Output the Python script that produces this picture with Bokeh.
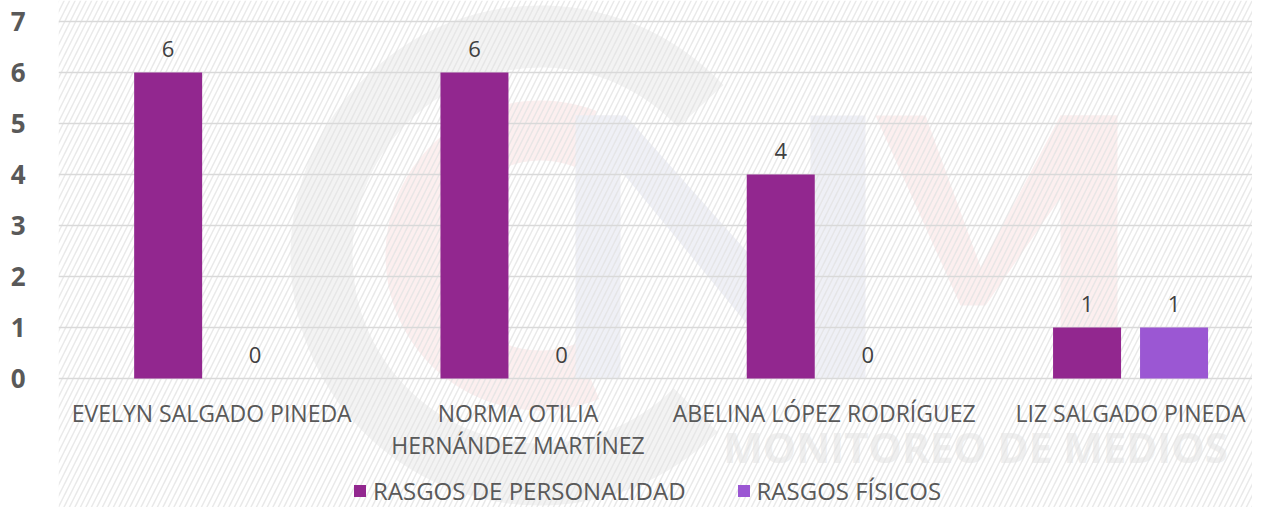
from bokeh.plotting import figure
from bokeh.models import Range1d, FixedTicker, ColumnDataSource, Legend, LegendItem
from bokeh.core.properties import value
from bokeh.embed import file_html
from bokeh.resources import INLINE

# ---- data ----
candidatas = ["EVELYN SALGADO PINEDA", "NORMA OTILIA\nHERNÁNDEZ MARTÍNEZ",
              "ABELINA LÓPEZ RODRÍGUEZ", "LIZ SALGADO PINEDA"]
personalidad = [6, 6, 4, 1]
fisicos = [0, 0, 0, 1]
series_names = ["RASGOS DE PERSONALIDAD", "RASGOS FÍSICOS"]
y_ticks = [0, 1, 2, 3, 4, 5, 6, 7]

C1 = "#92278F"
C2 = "#9B57D3"
FONT = "Open Sans"

W, H = 1252, 507
LEFT = 58
XPX = 306.3   # px per category
YPX = 51.0    # px per unit
Y0 = 378      # px of value 0
x_end = (W - LEFT) / XPX
y_top = Y0 / YPX
y_bot = (Y0 - H) / YPX

p = figure(width=W, height=H, output_backend="svg", toolbar_location=None,
           x_range=Range1d(0, x_end), y_range=Range1d(y_bot, y_top),
           min_border_left=LEFT, min_border_right=0, min_border_top=0, min_border_bottom=0)
p.outline_line_color = None
p.background_fill_color = "white"
p.border_fill_color = "white"

# ---- faint watermark (decoration, pixel positions of the logo) ----
def wx(px):
    return (px - LEFT) / XPX

def wy(py):
    return (Y0 - py) / YPX

p.annular_wedge(x=[wx(540)], y=[wy(255)], inner_radius=188, outer_radius=250,
                inner_radius_units="screen", outer_radius_units="screen",
                start_angle=0.75, end_angle=5.5, fill_color="#f3f3f3",
                line_color=None, level="underlay")
p.annular_wedge(x=[wx(540)], y=[wy(255)], inner_radius=95, outer_radius=155,
                inner_radius_units="screen", outer_radius_units="screen",
                start_angle=1.2, end_angle=5.1, fill_color="#fcefef",
                line_color=None, level="underlay")
lav_x = [[wx(575), wx(620), wx(620), wx(575)], [wx(810), wx(865), wx(865), wx(810)],
         [wx(575), wx(625), wx(790), wx(760)], [wx(760), wx(810), wx(810)]]
lav_y = [[wy(115), wy(115), wy(378), wy(378)], [wy(115), wy(115), wy(378), wy(378)],
         [wy(115), wy(115), wy(300), wy(340)], [wy(300), wy(200), wy(290)]]
p.patches(xs=lav_x, ys=lav_y, fill_color="#eff0f6", line_color=None, level="underlay")
pink_x = [[wx(875), wx(925), wx(985), wx(960)], [wx(960), wx(1060), wx(1117), wx(985)],
          [wx(1060), wx(1117), wx(1117), wx(1060)]]
pink_y = [[wy(115), wy(115), wy(280), wy(305)], [wy(305), wy(115), wy(115), wy(305)],
          [wy(115), wy(115), wy(330), wy(330)]]
p.patches(xs=pink_x, ys=pink_y, fill_color="#fcefef", line_color=None, level="underlay")
p.text(x=[wx(975)], y=[wy(446)], text=["MONITOREO DE MEDIOS"], text_font=value(FONT),
       text_font_size="42px", text_font_style="bold", text_color="#efefef",
       text_align="center", text_baseline="middle", level="underlay")

# hatch over the whole area
p.quad(left=[0], right=[x_end], bottom=[y_bot], top=[y_top], fill_alpha=0,
       line_color=None, hatch_pattern="/", hatch_color="#e2e2e2", hatch_alpha=0.75,
       hatch_scale=11, hatch_weight=1.5, level="underlay")

xs = [i + 0.5 for i in range(len(candidatas))]
off = 0.142
bw = 0.222
src = ColumnDataSource(dict(x1=[x - off for x in xs], x2=[x + off for x in xs],
                            p=personalidad, f=fisicos,
                            pl=[str(v) for v in personalidad], fl=[str(v) for v in fisicos]))
r1 = p.vbar(x="x1", top="p", width=bw, bottom=0, source=src, fill_color=C1, line_color=None)
r2 = p.vbar(x="x2", top="f", width=bw, bottom=0, source=src, fill_color=C2, line_color=None)

# value labels
for xcol, ycol, lcol in [("x1", "p", "pl"), ("x2", "f", "fl")]:
    p.text(x=xcol, y=ycol, text=lcol, source=src, text_font=value(FONT),
           text_font_size="22px", text_color="#404040", text_align="center",
           text_baseline="middle", y_offset=-24)

# category labels
lx, ly, lt = [], [], []
for x, name in zip(xs, candidatas):
    for j, part in enumerate(name.split("\n")):
        lx.append(x)
        ly.append(wy(412 + 32 * j))
        lt.append(part)
p.text(x=lx, y=ly, text=lt, text_font=value(FONT), text_font_size="23px",
       text_color="#595959", text_align="center", text_baseline="middle")

# axes
p.xaxis.visible = False
p.yaxis.ticker = FixedTicker(ticks=y_ticks)
p.yaxis.axis_line_color = None
p.yaxis.major_tick_line_color = None
p.yaxis.minor_tick_line_color = None
p.yaxis.major_label_text_font = FONT
p.yaxis.major_label_text_font_size = "26px"
p.yaxis.major_label_text_font_style = "bold"
p.yaxis.major_label_text_color = "#595959"
p.yaxis.major_label_standoff = 27
p.xgrid.visible = False
p.ygrid.ticker = FixedTicker(ticks=y_ticks)
p.ygrid.grid_line_color = "#d9d9d9"
p.ygrid.grid_line_width = 1.5

legend = Legend(items=[LegendItem(label=series_names[0], renderers=[r1]),
                       LegendItem(label=series_names[1], renderers=[r2])],
                orientation="horizontal", location=(294, 0),
                border_line_color=None, background_fill_alpha=0,
                padding=0, margin=0, spacing=50, label_standoff=6,
                glyph_width=15, glyph_height=15, label_height=22,
                label_text_font=FONT, label_text_font_size="24px",
                label_text_color="#595959")
p.add_layout(legend)

open("out.html", "w").write(file_html(p, INLINE))
